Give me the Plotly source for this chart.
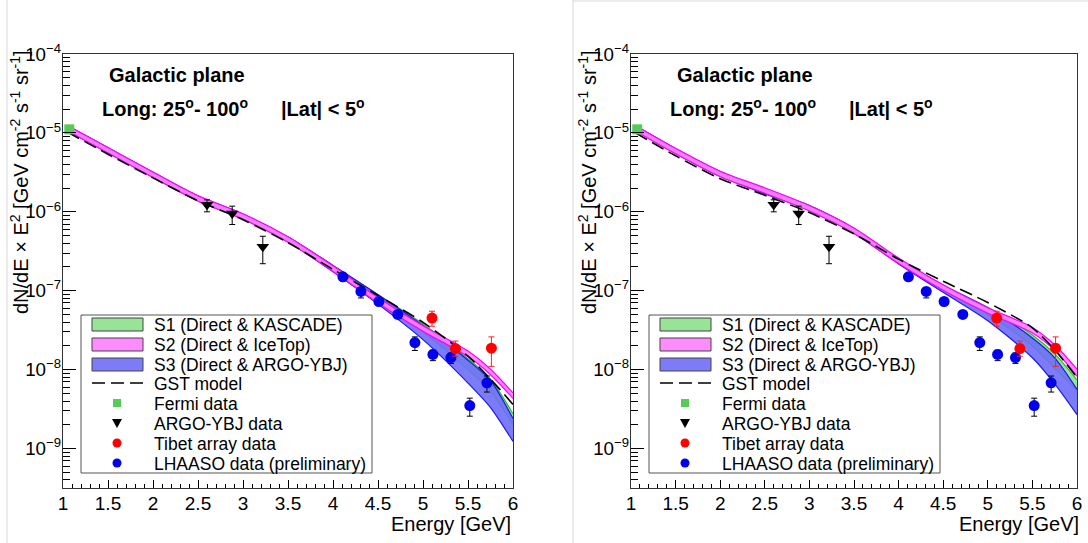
import numpy as np
import plotly.graph_objects as go

W, H = 1088, 543

# ---------------- data (log10 of E^2 dN/dE) ----------------
energy_grid = [1.05, 1.5, 2.0, 2.5, 3.0, 3.5, 4.0, 4.5, 5.0, 5.5, 5.75, 6.0]

# left panel model bands
left_s1_lo = [-4.97, -5.25, -5.56, -5.86, -6.09, -6.38, -6.74, -7.12, -7.52, -8.00, -8.27, -8.70]
left_s1_hi = [-4.91, -5.19, -5.50, -5.80, -6.03, -6.32, -6.68, -7.05, -7.42, -7.86, -8.12, -8.56]
left_s2_lo = [-4.975, -5.255, -5.565, -5.865, -6.095, -6.385, -6.755, -7.155, -7.515, -7.835, -8.065, -8.365]
left_s2_hi = [-4.905, -5.185, -5.495, -5.795, -6.025, -6.315, -6.685, -7.085, -7.445, -7.765, -7.995, -8.295]
left_s3_lo = [-4.97, -5.25, -5.56, -5.86, -6.09, -6.38, -6.76, -7.17, -7.62, -8.17, -8.48, -8.91]
left_s3_hi = [-4.91, -5.19, -5.50, -5.80, -6.03, -6.32, -6.68, -7.05, -7.44, -7.88, -8.14, -8.62]
left_gst = [-4.99, -5.27, -5.57, -5.86, -6.10, -6.39, -6.73, -7.06, -7.40, -7.83, -8.12, -8.44]

# right panel model bands
right_s1_lo = [-4.97, -5.26, -5.55, -5.77, -5.98, -6.27, -6.64, -6.99, -7.30, -7.70, -7.98, -8.27]
right_s1_hi = [-4.91, -5.20, -5.49, -5.71, -5.92, -6.21, -6.60, -6.93, -7.21, -7.56, -7.80, -8.13]
right_s2_lo = [-4.975, -5.265, -5.555, -5.765, -5.99, -6.275, -6.655, -6.995, -7.285, -7.535, -7.755, -8.085]
right_s2_hi = [-4.905, -5.195, -5.485, -5.695, -5.92, -6.205, -6.585, -6.925, -7.215, -7.465, -7.685, -7.995]
right_s3_lo = [-4.97, -5.26, -5.55, -5.77, -5.98, -6.27, -6.66, -7.02, -7.38, -7.85, -8.18, -8.57]
right_s3_hi = [-4.91, -5.20, -5.49, -5.71, -5.92, -6.21, -6.60, -6.93, -7.22, -7.60, -7.85, -8.25]
right_gst = [-5.00, -5.29, -5.58, -5.79, -6.01, -6.28, -6.60, -6.88, -7.15, -7.47, -7.75, -8.10]

# measurements: x = log10 energy, flux with lower / upper error ends
fermi_x = [1.07]
fermi_y = [1.11e-5]

argo_x = [2.60, 2.88, 3.22]
argo_y = [1.23e-6, 9.5e-7, 3.6e-7]
argo_lo = [1.0e-6, 6.9e-7, 2.2e-7]
argo_hi = [1.42e-6, 1.18e-6, 4.9e-7]

tibet_x = [5.10, 5.36, 5.76]
tibet_y = [4.5e-8, 1.85e-8, 1.87e-8]
tibet_lo = [3.55e-8, 1.48e-8, 1.1e-8]
tibet_hi = [5.5e-8, 2.3e-8, 2.6e-8]

lhaaso_x = [4.11, 4.31, 4.51, 4.72, 4.91, 5.11, 5.31, 5.52, 5.71]
lhaaso_y = [1.5e-7, 9.8e-8, 7.3e-8, 5.0e-8, 2.2e-8, 1.56e-8, 1.42e-8, 3.5e-9, 6.8e-9]
lhaaso_lo = [1.4e-7, 8.1e-8, 6.7e-8, 4.6e-8, 1.75e-8, 1.30e-8, 1.2e-8, 2.57e-9, 5.2e-9]
lhaaso_hi = [1.6e-7, 1.08e-7, 7.9e-8, 5.4e-8, 2.6e-8, 1.77e-8, 1.62e-8, 4.35e-9, 8.3e-9]

legend_labels = ["S1 (Direct & KASCADE)", "S2 (Direct & IceTop)", "S3 (Direct & ARGO-YBJ)",
                 "GST model", "Fermi data", "ARGO-YBJ data", "Tibet array data",
                 "LHAASO data (preliminary)"]

FONT = "Liberation Sans, Arial, Helvetica, sans-serif"

S1_FILL, S1_LINE = "rgba(140,225,140,0.9)", "#2fb82f"
S2_FILL, S2_LINE = "rgba(255,128,255,0.9)", "#ff00ff"
S3_FILL, S3_LINE = "rgba(110,110,250,0.9)", "#1a1ae6"


def px(x):
    return x / W


def py(y):
    return 1 - y / H


fig = go.Figure()


def add_band(lo, hi, fill, line, xa, ya):
    xs = energy_grid
    fig.add_trace(go.Scatter(x=xs, y=10 ** np.array(lo), mode="lines",
                             line=dict(color=line, width=1.2, shape="spline", smoothing=0.8),
                             xaxis=xa, yaxis=ya, showlegend=False, hoverinfo="skip"))
    fig.add_trace(go.Scatter(x=xs, y=10 ** np.array(hi), mode="lines", fill="tonexty",
                             fillcolor=fill,
                             line=dict(color=line, width=1.2, shape="spline", smoothing=0.8),
                             xaxis=xa, yaxis=ya, showlegend=False, hoverinfo="skip"))


def err(y, lo, hi):
    y = np.array(y)
    return dict(type="data", symmetric=False, array=np.array(hi) - y,
                arrayminus=y - np.array(lo), thickness=1, width=3)


def add_panel(xa, ya, s1, s2, s3, gst):
    add_band(*s1, S1_FILL, S1_LINE, xa, ya)
    add_band(*s3, S3_FILL, S3_LINE, xa, ya)
    add_band(*s2, S2_FILL, S2_LINE, xa, ya)
    fig.add_trace(go.Scatter(x=energy_grid, y=10 ** np.array(gst), mode="lines",
                             line=dict(color="black", width=1.6, dash="13px,6px",
                                       shape="spline", smoothing=0.8),
                             xaxis=xa, yaxis=ya, showlegend=False))
    fig.add_trace(go.Scatter(x=fermi_x, y=fermi_y, mode="markers",
                             marker=dict(symbol="square", size=10, color="#55cc55"),
                             xaxis=xa, yaxis=ya, showlegend=False, cliponaxis=False))
    e = err(argo_y, argo_lo, argo_hi)
    e["color"] = "black"
    fig.add_trace(go.Scatter(x=argo_x, y=argo_y, mode="markers", error_y=e,
                             marker=dict(symbol="triangle-down", size=11, color="black"),
                             xaxis=xa, yaxis=ya, showlegend=False))
    e = err(lhaaso_y, lhaaso_lo, lhaaso_hi)
    e["color"] = "black"
    fig.add_trace(go.Scatter(x=lhaaso_x, y=lhaaso_y, mode="markers", error_y=e,
                             marker=dict(symbol="circle", size=11, color="#0000ee"),
                             xaxis=xa, yaxis=ya, showlegend=False))
    e = err(tibet_y, tibet_lo, tibet_hi)
    e["color"] = "#ff2020"
    fig.add_trace(go.Scatter(x=tibet_x, y=tibet_y, mode="markers", error_y=e,
                             marker=dict(symbol="circle", size=11, color="#ff0000"),
                             xaxis=xa, yaxis=ya, showlegend=False))


add_panel("x", "y", (left_s1_lo, left_s1_hi), (left_s2_lo, left_s2_hi),
          (left_s3_lo, left_s3_hi), left_gst)
add_panel("x2", "y2", (right_s1_lo, right_s1_hi), (right_s2_lo, right_s2_hi),
          (right_s3_lo, right_s3_hi), right_gst)

ydom = [py(488), py(54)]


def xaxis_cfg(dom, anchor):
    return dict(domain=dom, range=[1, 6], tick0=1, dtick=0.5, ticks="inside",
                ticklen=8, tickwidth=1, tickcolor="black", showline=True,
                linecolor="#333", linewidth=1, mirror=True, showgrid=False,
                zeroline=False, anchor=anchor, automargin=False,
                ticklabelstandoff=-2,
                tickfont=dict(family=FONT, size=19, color="black"),
                minor=dict(dtick=0.1, ticks="inside", ticklen=4, tickcolor="black",
                           showgrid=False))


def yaxis_cfg(anchor):
    return dict(domain=ydom, type="log", range=[-9.5, -4], dtick=1,
                exponentformat="power", showexponent="all", ticks="inside",
                ticklen=13, tickwidth=1, tickcolor="black", showline=True,
                linecolor="#333", linewidth=1, mirror=True, showgrid=False,
                zeroline=False, anchor=anchor, automargin=False,
                ticklabelstandoff=-2,
                tickfont=dict(family=FONT, size=15, color="black"),
                minor=dict(dtick="D1", ticks="inside", ticklen=7, tickcolor="black",
                           showgrid=False))


shapes = []
annotations = []

YTITLE = ("dN/dE × E<sup>2</sup> [GeV cm<sup>-2</sup> s<sup>-1</sup> "
          "sr<sup>-1</sup>]")


def panel_decor(dx):
    # axis titles
    annotations.append(dict(text=YTITLE, textangle=-90, x=px(19 + dx), y=py(48),
                            xref="paper", yref="paper", xanchor="center",
                            yanchor="top", showarrow=False,
                            font=dict(family=FONT, size=20, color="black")))
    annotations.append(dict(text="Energy [GeV]", x=px(513 + dx), y=py(524),
                            xref="paper", yref="paper", xanchor="right",
                            yanchor="middle", showarrow=False,
                            font=dict(family=FONT, size=20, color="black")))
    # region labels
    annotations.append(dict(text="<b>Galactic plane</b>", x=px(107 + dx), y=py(75),
                            xref="paper", yref="paper", xanchor="left",
                            yanchor="middle", showarrow=False,
                            font=dict(family=FONT, size=20, color="black")))
    annotations.append(dict(text="<b>Long: 25<sup>o</sup>- 100<sup>o</sup></b>",
                            x=px(100 + dx), y=py(107), xref="paper", yref="paper",
                            xanchor="left", yanchor="middle", showarrow=False,
                            font=dict(family=FONT, size=20, color="black")))
    annotations.append(dict(text="<b>|Lat| < 5<sup>o</sup></b>",
                            x=px(279 + dx), y=py(107), xref="paper", yref="paper",
                            xanchor="left", yanchor="middle", showarrow=False,
                            font=dict(family=FONT, size=20, color="black")))
    # legend frame
    shapes.append(dict(type="rect", xref="paper", yref="paper",
                       x0=px(81 + dx), x1=px(372 + dx), y0=py(473), y1=py(315),
                       line=dict(color="#555", width=1), fillcolor="white"))
    rows = [324, 344, 364, 383, 403, 423, 443, 463]
    for lab, ry in zip(legend_labels, rows):
        annotations.append(dict(text=lab, x=px(152 + dx), y=py(ry + 1), xref="paper",
                                yref="paper", xanchor="left", yanchor="middle",
                                showarrow=False,
                                font=dict(family=FONT, size=17.5, color="black")))
    for fill, ry in zip([S1_FILL, S2_FILL, S3_FILL], rows[:3]):
        shapes.append(dict(type="rect", xref="paper", yref="paper",
                           x0=px(92 + dx), x1=px(143 + dx), y0=py(ry + 7), y1=py(ry - 6),
                           line=dict(color="#444", width=1), fillcolor=fill))
    shapes.append(dict(type="line", xref="paper", yref="paper",
                       x0=px(92 + dx), x1=px(143 + dx), y0=py(rows[3]), y1=py(rows[3]),
                       line=dict(color="black", width=1.6, dash="13px,6px")))
    cx = 117 + dx
    r = rows[4]
    shapes.append(dict(type="rect", xref="paper", yref="paper",
                       x0=px(cx - 4), x1=px(cx + 4), y0=py(r + 4), y1=py(r - 4),
                       line=dict(width=0), fillcolor="#55cc55"))
    r = rows[5]
    shapes.append(dict(type="path", xref="paper", yref="paper",
                       path=f"M {px(cx - 5)},{py(r - 4)} L {px(cx + 5)},{py(r - 4)} "
                            f"L {px(cx)},{py(r + 5)} Z",
                       line=dict(width=0), fillcolor="black"))
    for col, r in [("#ff0000", rows[6]), ("#0000ee", rows[7])]:
        shapes.append(dict(type="circle", xref="paper", yref="paper",
                           x0=px(cx - 4.5), x1=px(cx + 4.5), y0=py(r + 4.5), y1=py(r - 4.5),
                           line=dict(width=0), fillcolor=col))


panel_decor(0)
panel_decor(568)

# thin frames around each panel image
for x0, y0, x1, y1 in [(7, 0, 7, H), (573, 0, 573, H), (573, 1, W, 1)]:
    shapes.append(dict(type="line", xref="paper", yref="paper",
                       x0=px(x0), x1=px(x1), y0=py(y0), y1=py(y1),
                       line=dict(color="#d8d8d8", width=1), layer="below"))

fig.update_layout(
    template="none",
    width=W, height=H, autosize=False,
    margin=dict(l=0, r=0, t=0, b=0, pad=0, autoexpand=False),
    paper_bgcolor="white", plot_bgcolor="white",
    xaxis=xaxis_cfg([px(63), px(513)], "y"),
    yaxis=yaxis_cfg("x"),
    xaxis2=xaxis_cfg([px(631), px(1077)], "y2"),
    yaxis2=yaxis_cfg("x2"),
    shapes=shapes, annotations=annotations,
    showlegend=False,
)

fig.write_html("out.html")
